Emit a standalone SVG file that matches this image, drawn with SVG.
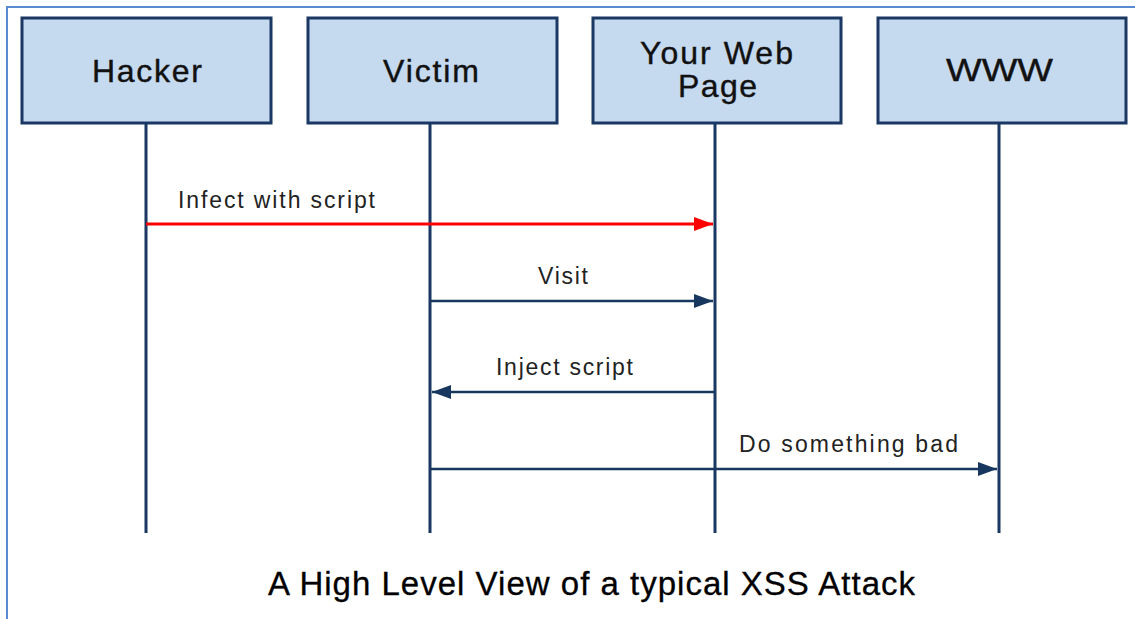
<svg xmlns="http://www.w3.org/2000/svg" width="1135" height="619" viewBox="0 0 1135 619">
  <style>
    .box { fill: #c5d9ef; stroke: #1b3763; stroke-width: 3; }
    .name { font-family: "Liberation Sans", Arial, sans-serif; font-size: 32px; fill: #111; stroke: #111; stroke-width: 0.4; }
    .life { stroke: #1b3763; stroke-width: 3; fill: none; }
    .msg { stroke: #17375e; stroke-width: 2.5; fill: none; }
    .msg-red { stroke: #ff0000; stroke-width: 3; fill: none; }
    .lbl { font-family: "Liberation Sans", Arial, sans-serif; font-size: 23px; fill: #222; }
    .title { font-family: "Liberation Sans", Arial, sans-serif; font-size: 33px; fill: #000; stroke: #000; stroke-width: 0.3; }
  </style>
  <defs>
    <marker id="arrow-navy" markerUnits="userSpaceOnUse" markerWidth="20" markerHeight="16" refX="19" refY="8" orient="auto">
      <path d="M0,1 L19,8 L0,15 Z" fill="#17375e"/>
    </marker>
    <marker id="arrow-red" markerUnits="userSpaceOnUse" markerWidth="20" markerHeight="16" refX="19" refY="8" orient="auto">
      <path d="M0,1 L19,8 L0,15 Z" fill="#ff0000"/>
    </marker>
  </defs>

  <rect width="1135" height="619" fill="#ffffff"/>
  <!-- outer frame -->
  <path d="M7,619 L7,7 L1135,7" fill="none" stroke="#5a8ad0" stroke-width="2"/>

  <!-- participants -->
  <g id="hacker">
    <rect class="box" x="22" y="18" width="249" height="105"/>
    <line class="life" x1="146" y1="123" x2="146" y2="533"/>
    <text class="name" x="92" y="82" textLength="110" lengthAdjust="spacing">Hacker</text>
  </g>
  <g id="victim">
    <rect class="box" x="308" y="18" width="249" height="105"/>
    <line class="life" x1="430" y1="123" x2="430" y2="533"/>
    <text class="name" x="383" y="82" textLength="96" lengthAdjust="spacing">Victim</text>
  </g>
  <g id="web-page">
    <rect class="box" x="593" y="18" width="248" height="105"/>
    <line class="life" x1="715" y1="123" x2="715" y2="533"/>
    <text class="name" x="640" y="64" textLength="153" lengthAdjust="spacing">Your Web</text>
    <text class="name" x="678" y="97" textLength="79" lengthAdjust="spacing">Page</text>
  </g>
  <g id="www">
    <rect class="box" x="878" y="18" width="248" height="105"/>
    <line class="life" x1="999" y1="123" x2="999" y2="533"/>
    <text class="name" x="946" y="81" textLength="107" lengthAdjust="spacingAndGlyphs">WWW</text>
  </g>

  <!-- messages -->
  <g id="connectors">
    <line class="msg-red" x1="146" y1="224" x2="713" y2="224" marker-end="url(#arrow-red)"/>
    <line class="msg" x1="430" y1="301" x2="713" y2="301" marker-end="url(#arrow-navy)"/>
    <line class="msg" x1="715" y1="392" x2="432" y2="392" marker-end="url(#arrow-navy)"/>
    <line class="msg" x1="430" y1="469" x2="997" y2="469" marker-end="url(#arrow-navy)"/>
    <text class="lbl" x="178" y="208" textLength="197" lengthAdjust="spacing">Infect with script</text>
    <text class="lbl" x="538" y="284" textLength="50" lengthAdjust="spacing">Visit</text>
    <text class="lbl" x="496" y="375" textLength="137" lengthAdjust="spacing">Inject script</text>
    <text class="lbl" x="739" y="452" textLength="219" lengthAdjust="spacing">Do something bad</text>
  </g>

  <text class="title" x="268" y="595" textLength="647" lengthAdjust="spacing">A High Level View of a typical XSS Attack</text>
</svg>
